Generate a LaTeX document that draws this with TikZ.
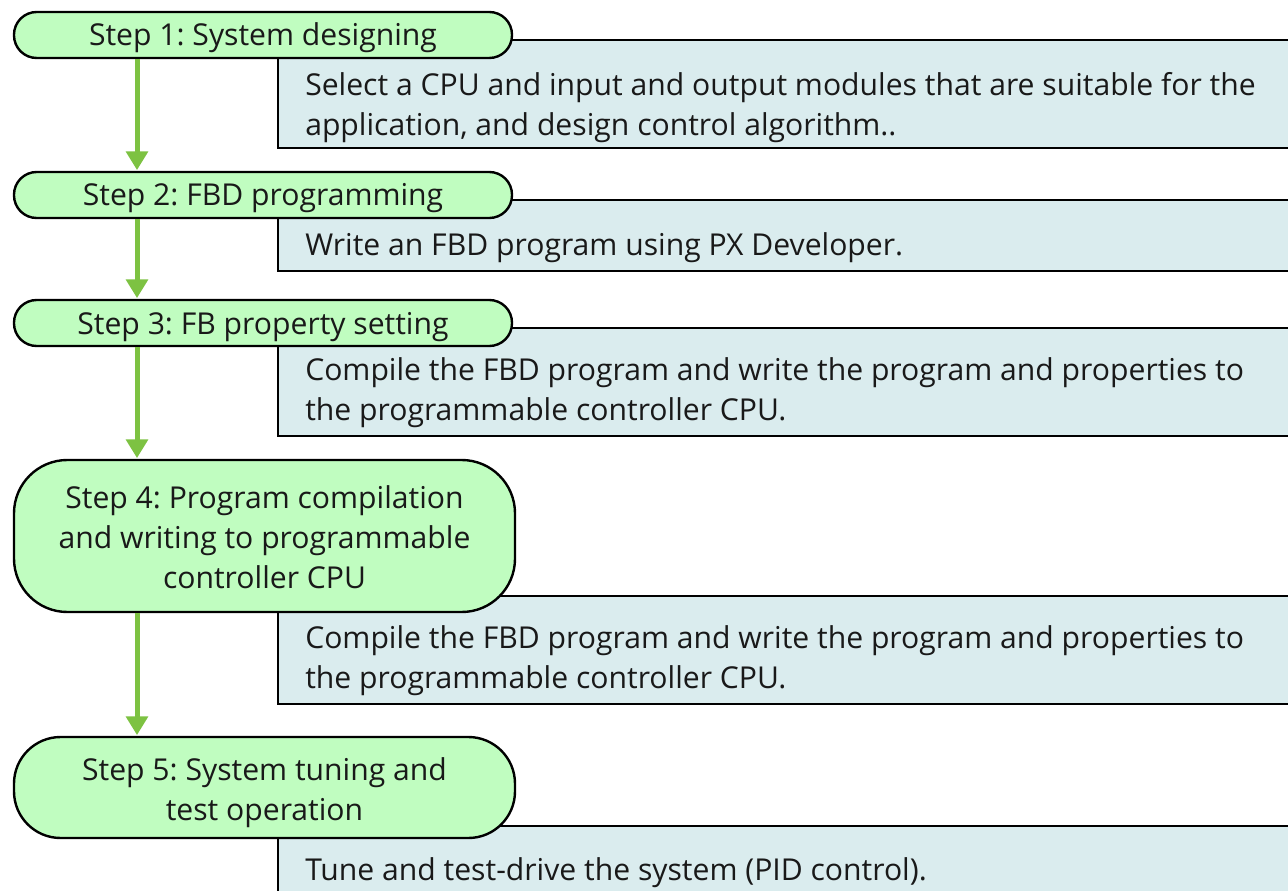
\documentclass[tikz,border=0pt]{standalone}
\usepackage{fontspec}
\setmainfont{Open Sans}
\usetikzlibrary{arrows.meta}
\definecolor{stepgreen}{HTML}{C0FDC0}
\definecolor{descblue}{HTML}{DAECEE}
\definecolor{arrowgreen}{HTML}{7DC242}
\frenchspacing
\tikzset{
  stepbox/.style={draw=black, line width=1.8pt, fill=stepgreen, align=center,
    font=\fontsize{22.6}{30}\selectfont, inner sep=0pt, text=black!90},
  onerow/.style={text height=22pt, text depth=5.5pt},
  descrect/.style={draw=black, line width=1.8pt, fill=descblue},
  desctext/.style={anchor=west, align=left, inner sep=0pt,
    font=\fontsize{22.6}{30}\selectfont, text=black!90},
  flow/.style={draw=arrowgreen, line width=3.75pt,
    -{Triangle[width=16pt,length=14pt,fill=arrowgreen]}, shorten >=0.5pt}
}
\begin{document}
\begin{tikzpicture}[x=0.75pt,y=-0.75pt]
\useasboundingbox (0,0) rectangle (1288,891);
\clip (0,0) rectangle (1288,891);

% description boxes
\path[descrect] (278,40) rectangle (1300,148);
\node[desctext] (t1) at (305,107.5) {Select a CPU and input and output modules that are suitable for the\\application, and design control algorithm..};
\path[descrect] (278,200) rectangle (1300,271);
\node[desctext] (t2) at (305,248) {Write an FBD program using PX Developer.};
\path[descrect] (278,328) rectangle (1300,436);
\node[desctext] (t3) at (305,393) {Compile the FBD program and write the program and properties to\\the programmable controller CPU.};
\path[descrect] (278,596) rectangle (1300,704);
\node[desctext] (t4) at (305,661) {Compile the FBD program and write the program and properties to\\the programmable controller CPU.};
\path[descrect] (278,826) rectangle (1300,910);
\node[desctext] (t5) at (305,873) {Tune and test-drive the system (PID control).};

% step boxes
\node[stepbox, onerow, minimum width=373.5pt, minimum height=34.5pt, rounded corners=17pt] (s1) at (263,35) {Step 1: System designing};
\node[stepbox, onerow, minimum width=373.5pt, minimum height=34.5pt, rounded corners=17pt] (s2) at (263,195) {Step 2: FBD programming};
\node[stepbox, onerow, minimum width=373.5pt, minimum height=34.5pt, rounded corners=17pt] (s3) at (263,323) {Step 3: FB property setting};
\node[stepbox, minimum width=375.75pt, minimum height=114pt, rounded corners=40pt] (s4) at (264.5,536) {\rule{0pt}{19.5pt}Step 4: Program compilation\\and writing to programmable\\controller CPU};
\node[stepbox, minimum width=375.75pt, minimum height=75.75pt, rounded corners=35pt] (s5) at (264.5,787.5) {\rule{0pt}{25.5pt}Step 5: System tuning and\\test operation};

% arrows
\coordinate (ax) at (137,0);
\draw[flow] (s1.south -| ax) -- (s2.north -| ax);
\draw[flow] (s2.south -| ax) -- (s3.north -| ax);
\draw[flow] (s3.south -| ax) -- (s4.north -| ax);
\draw[flow] (s4.south -| ax) -- (s5.north -| ax);
\end{tikzpicture}
\end{document}
